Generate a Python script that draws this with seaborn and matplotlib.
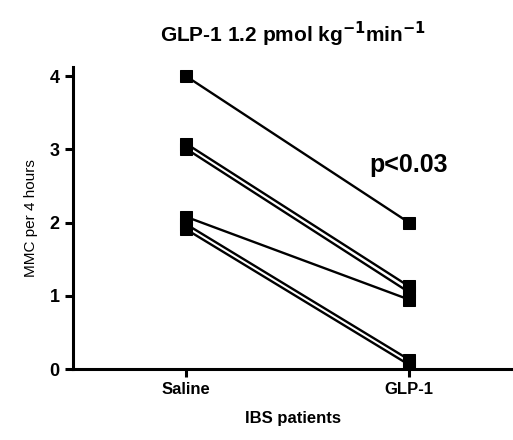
import matplotlib
matplotlib.use("Agg")
import matplotlib.pyplot as plt
import seaborn as sns
import pandas as pd

conditions = ["Saline", "GLP-1"]
patients = ["P1", "P2", "P3", "P4", "P5", "P6"]
saline_values = [4.0, 3.08, 3.01, 2.08, 1.98, 1.91]
glp1_values = [2.0, 1.13, 1.05, 0.95, 0.13, 0.06]
y_ticks = [0, 1, 2, 3, 4]

rows = []
for p, s, g in zip(patients, saline_values, glp1_values):
    rows.append({"patient": p, "condition": conditions[0], "value": s})
    rows.append({"patient": p, "condition": conditions[1], "value": g})
df = pd.DataFrame(rows)

sns.set_style("ticks")
plt.rcParams["font.family"] = ["Liberation Sans", "DejaVu Sans"]
for k in ["text.color", "axes.labelcolor", "xtick.color", "ytick.color", "axes.edgecolor"]:
    plt.rcParams[k] = "black"

fig = plt.figure(figsize=(5.13, 4.4), dpi=100)
ax = fig.add_axes([0.142, 0.161, 0.858, 0.686])

sns.lineplot(data=df, x="condition", y="value", units="patient", estimator=None,
             color="black", marker="s", markersize=8, markeredgecolor="black",
             linewidth=1.7, ax=ax, sort=False)

ax.set_xlim(-0.507, 1.466)
ax.set_ylim(0, 4.12)
ax.set_yticks(y_ticks)
ax.set_yticklabels([str(t) for t in y_ticks], fontsize=13, fontweight="bold")
ax.set_xticks([0, 1])
ax.set_xticklabels(conditions, fontsize=12, fontweight="bold")
ax.set_xlabel("IBS patients", fontsize=12, fontweight="bold", labelpad=10)
ax.set_ylabel("MMC per 4 hours", fontsize=11, labelpad=8)
ax.set_title("GLP-1 1.2 pmol kg$^{\\mathbf{-1}}$min$^{\\mathbf{-1}}$", fontsize=15,
             fontweight="bold", pad=18)

for s in ["top", "right"]:
    ax.spines[s].set_visible(False)
for s in ["left", "bottom"]:
    ax.spines[s].set_linewidth(2.2)
ax.tick_params(width=2.2, length=6, direction="out")

ax.text(1.0, 2.78, "p<0.03", fontsize=18, fontweight="bold", ha="center", va="center")

fig.savefig("out.png", dpi=100)
